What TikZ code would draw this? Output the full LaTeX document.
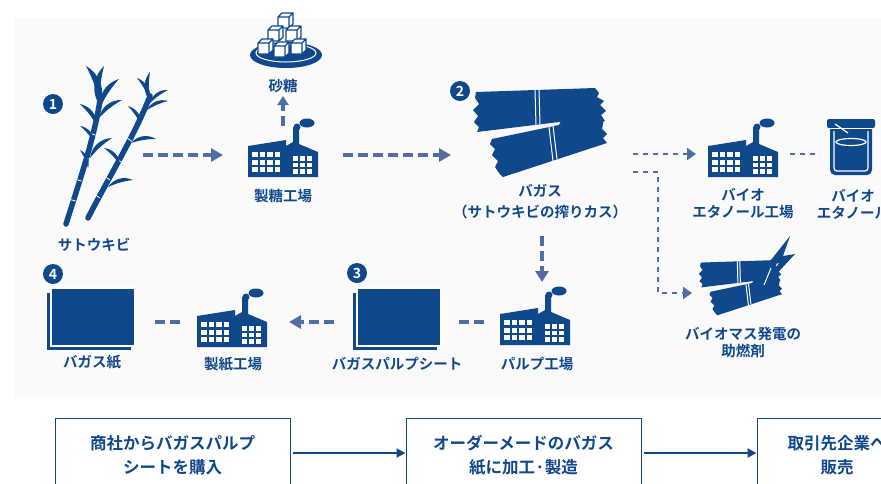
\documentclass[tikz,border=0pt]{standalone}
\usepackage{fontspec}
\setmainfont{Noto Sans CJK JP}[BoldFont={Noto Sans CJK JP Bold}]
\usetikzlibrary{arrows.meta,positioning}

\definecolor{navy}{RGB}{16,72,140}
\definecolor{flowblue}{RGB}{78,110,165}
\definecolor{panel}{RGB}{250,250,250}

% leaves of the cane, curved one way or the other
\newcommand{\leafl}[2]{\fill[navy] (#1) to[bend left=40] (#2) to[bend right=8] (#1);}
\newcommand{\leafr}[2]{\fill[navy] (#1) to[bend right=40] (#2) to[bend left=8] (#1);}

\tikzset{
  flow/.style={draw=flowblue, line width=4pt, dash pattern=on 10pt off 5pt,
    -{Triangle[length=12pt,width=13pt]}},
  flowline/.style={draw=flowblue, line width=4pt, dash pattern=on 10pt off 5pt},
  dotflow/.style={draw=flowblue, line width=2.6pt, dash pattern=on 5pt off 5pt,
    -{Triangle[length=9pt,width=12pt]}},
  dotline/.style={draw=flowblue, line width=2.6pt, dash pattern=on 5pt off 5pt},
  label/.style={text=navy, font=\bfseries\fontsize{14.5}{17}\selectfont, align=center, inner sep=0pt},
  numball/.style={circle, fill=navy, text=white, inner sep=0pt, minimum size=20pt,
    font=\bfseries\fontsize{14}{14}\selectfont},
  flowbox/.style={draw=navy, line width=1pt, fill=white, minimum width=235pt, minimum height=74pt,
    text=navy, align=center, font=\bfseries\fontsize{16.5}{24}\selectfont},
  link/.style={draw=navy, line width=2pt, -{Triangle[length=9pt,width=9pt]}},
  % factory with chimney and smoke
  factory/.pic={
    \fill[navy] (-35,0) -- (-35,-31) -- (3,-37) -- (3,-31) -- (10,-35) -- (10,-50)
      -- (16,-50) -- (16,-33) -- (35,-25) -- (35,0) -- cycle;
    \fill[navy] (14,-50) circle (3.5);
    \fill[navy] (24,-54) ellipse (7.5 and 4.5);
    \foreach \x in {-31,-23.5,-16,-8.5}
      \foreach \y in {-25,-17.5,-10}
        \fill[white] (\x,\y) rectangle ++(5.5,5);
    \foreach \x in {10,17,24}
      \foreach \y in {-21,-14.5,-8}
        \fill[white] (\x,\y) rectangle ++(5,4.5);
  },
  % sugar cube
  cube/.pic={
    \filldraw[fill=white, draw=navy, line width=1.3pt, line join=round]
      (0,0) rectangle (11,11)
      (0,0) -- (4,-4) -- (15,-4) -- (11,0) -- cycle
      (11,0) -- (15,-4) -- (15,7) -- (11,11) -- cycle;
  },
  % two tied bundles of fibre
  bundle/.pic={
    \fill[navy] (-65,-41) -- (54,-45) -- (58,-40) -- (56,-36) -- (63,-32) -- (59,-28)
      -- (65,-22) -- (60,-18) -- (64,-12) -- (18,-11) -- (-64,-1) -- (-62,-6) -- (-67,-11)
      -- (-63,-17) -- (-68,-23) -- (-62,-29) -- (-66,-35) -- cycle;
    \fill[navy] (-49,6) -- (18,-8) -- (21,-14) -- (63,-14) -- (61,-4) -- (66,1) -- (62,5) -- (66,10)
      -- (-38,44) -- (-42,40) -- (-46,34) -- (-43,28) -- (-49,22) -- (-46,16) -- (-51,11) -- cycle;
    \draw[white, line width=1pt] (-6,-43) -- (-5,-8) (-2,-44) -- (-1,-9);
    \draw[white, line width=1pt] (8,-6) -- (12,28) (12,-7) -- (16,26);
  }
}

\begin{document}
\begin{tikzpicture}[x=1pt, y=-1pt]
  \useasboundingbox (0,0) rectangle (881,483);
  \fill[white] (0,0) rectangle (881,483);
  \fill[panel] (14,18) rectangle (881,397);

  % --- sugar cane ---
  \draw[navy, line width=5.5pt, line cap=round] (66,224) .. controls (80,180) and (95,135) .. (100,100);
  \draw[navy, line width=5.5pt, line cap=round] (88,218) .. controls (110,175) and (135,135) .. (150,96);
  \foreach \a/\b in {72/200, 78/180, 85/158, 92/134}
    \draw[white, line width=0.8pt] (\a-3.5,\b-1) -- (\a+3.5,\b+1);
  \foreach \a/\b in {97/196, 107/178, 118/160, 130/140}
    \draw[white, line width=0.8pt] (\a-3,\b-2) -- (\a+3,\b+2);
  \leafr{100,106}{86,66}
  \leafl{100,106}{104,66}
  \leafl{100,108}{119,79}
  \leafl{99,118}{122,100}
  \leafr{97,126}{80,104}
  \leafr{94,142}{80,126}
  \leafr{88,168}{80,150}
  \leafl{90,158}{112,138}
  \leafr{150,101}{137,78}
  \leafl{150,101}{150,72}
  \leafl{150,103}{168,90}
  \leafl{147,110}{168,101}
  \leafr{141,125}{128,106}
  \leafl{131,143}{156,139}
  \leafr{120,165}{104,148}
  \leafl{108,187}{133,180}
  \node[numball] (n1) at (53,104) {1};
  \node[label] (cane) at (94,245) {サトウキビ};

  % --- sugar mill and sugar ---
  \pic (mill) at (283,177) {factory};
  \node[label] (millname) at (283,196) {製糖工場};
  \fill[navy] (286,55) ellipse (36 and 13);
  \draw[white, line width=1pt] (286,53) ellipse (30 and 9);
  \pic at (278,17) {cube};
  \pic at (268,30) {cube};
  \pic at (286,30) {cube};
  \pic at (258,43) {cube};
  \pic at (274,46) {cube};
  \pic at (291,43) {cube};
  \node[label] (sugar) at (283,86) {砂糖};

  \coordinate (cane-out) at (143,155);
  \coordinate (mill-in) at (223,155);
  \coordinate (mill-up) at (283,126);
  \coordinate (sugar-in) at (283,96);
  \coordinate (mill-out) at (343,155);
  \coordinate (bagasse-in) at (451,155);
  \draw[flow] (cane-out) -- (mill-in);
  \draw[flow, -{Triangle[length=9pt,width=11pt]}] (mill-up) -- (sugar-in);
  \draw[flow] (mill-out) -- (bagasse-in);

  % --- bagasse ---
  \pic (bagasse) at (541,133) {bundle};
  \node[numball] (n2) at (460,91) {2};
  \node[label] (bagname) at (540,191) {バガス};
  \node[label] (bagnote) at (540,212) {（サトウキビの搾りカス）};

  % --- bio ethanol ---
  \pic (ethplant) at (743,177) {factory};
  \node[label] (ethplantname) at (743,204) {バイオ\\エタノール工場};
  \fill[navy, rounded corners=5pt] (830,124) rectangle (872,175);
  \fill[navy, rounded corners=2pt] (827,119) rectangle (875,128);
  \draw[white, line width=1pt] (830,128) -- (872,128);
  \draw[white, line width=1.2pt, rounded corners=3pt] (834,131) -- (834,171) -- (868,171) -- (868,131);
  \draw[white, line width=1.2pt] (851,142) ellipse (15 and 3.5);
  \draw[white, line width=1.2pt] (835,124) -- (848,133);
  \node[label] (ethanol) at (853,204) {バイオ\\エタノール};

  \coordinate (bag-eth) at (633,154);
  \coordinate (eth-in) at (696,154);
  \coordinate (eth-out) at (790,154);
  \coordinate (beaker-in) at (820,154);
  \coordinate (bag-bio) at (633,172);
  \coordinate (bend) at (658,172);
  \coordinate (bio-in) at (692,293);
  \draw[dotflow] (bag-eth) -- (eth-in);
  \draw[dotline] (eth-out) -- (beaker-in);
  \draw[dotflow] (bag-bio) -- (bend) |- (bio-in);

  % --- biomass fuel ---
  \pic[scale=0.62] (biofuel) at (741,288) {bundle};
  \fill[navy] (790,236) -- (767,265) -- (779,263) -- (759,293) -- (795,254) -- (783,256) -- cycle;
  \draw[white, line width=1pt] (771,268) -- (764,285);
  \node[label] (bioname) at (743,343) {バイオマス発電の\\助燃剤};

  % --- pulp mill ---
  \coordinate (bag-down) at (542,236);
  \coordinate (pulp-in) at (542,282);
  \draw[flow, -{Triangle[length=11pt,width=13pt]}] (bag-down) -- (pulp-in);
  \pic (pulpmill) at (535,345) {factory};
  \node[label] (pulpname) at (537,364) {パルプ工場};

  % --- pulp sheet ---
  \fill[navy] (353,293) rectangle (437,350);
  \filldraw[fill=navy, draw=white, line width=1.2pt] (357,288) rectangle (441,346);
  \node[numball] (n3) at (357,273) {3};
  \node[label] (sheetname) at (397,364) {バガスパルプシート};

  % --- paper mill and paper ---
  \pic (papermill) at (232,347) {factory};
  \node[label] (millname2) at (233,364) {製紙工場};
  \fill[navy] (47,293) rectangle (131,350);
  \filldraw[fill=navy, draw=white, line width=1.2pt] (51,288) rectangle (135,346);
  \node[numball] (n4) at (53,274) {4};
  \node[label] (paper) at (92,362) {バガス紙};

  \coordinate (pulp-out) at (484,322);
  \coordinate (sheet-in) at (456,322);
  \coordinate (sheet-out) at (334,322);
  \coordinate (pmill-in) at (289,322);
  \coordinate (pmill-out) at (180,322);
  \coordinate (paper-in) at (152,322);
  \draw[flowline] (pulp-out) -- (sheet-in);
  \draw[flow] (sheet-out) -- (pmill-in);
  \draw[flowline] (pmill-out) -- (paper-in);

  % --- business steps ---
  \node[flowbox] (buy) at (172.5,455) {商社からバガスパルプ\\シートを購入};
  \node[flowbox] (make) at (523.5,455) {オーダーメードのバガス\\紙に加工·製造};
  \node[flowbox, minimum width=160pt] (sell) at (837,455) {取引先企業へ\\販売};
  \draw[link] (buy.east) ++(2,-2) -- (make.west |- 0,453);
  \draw[link] (make.east) ++(2,-2) -- (sell.west |- 0,453);
\end{tikzpicture}
\end{document}
